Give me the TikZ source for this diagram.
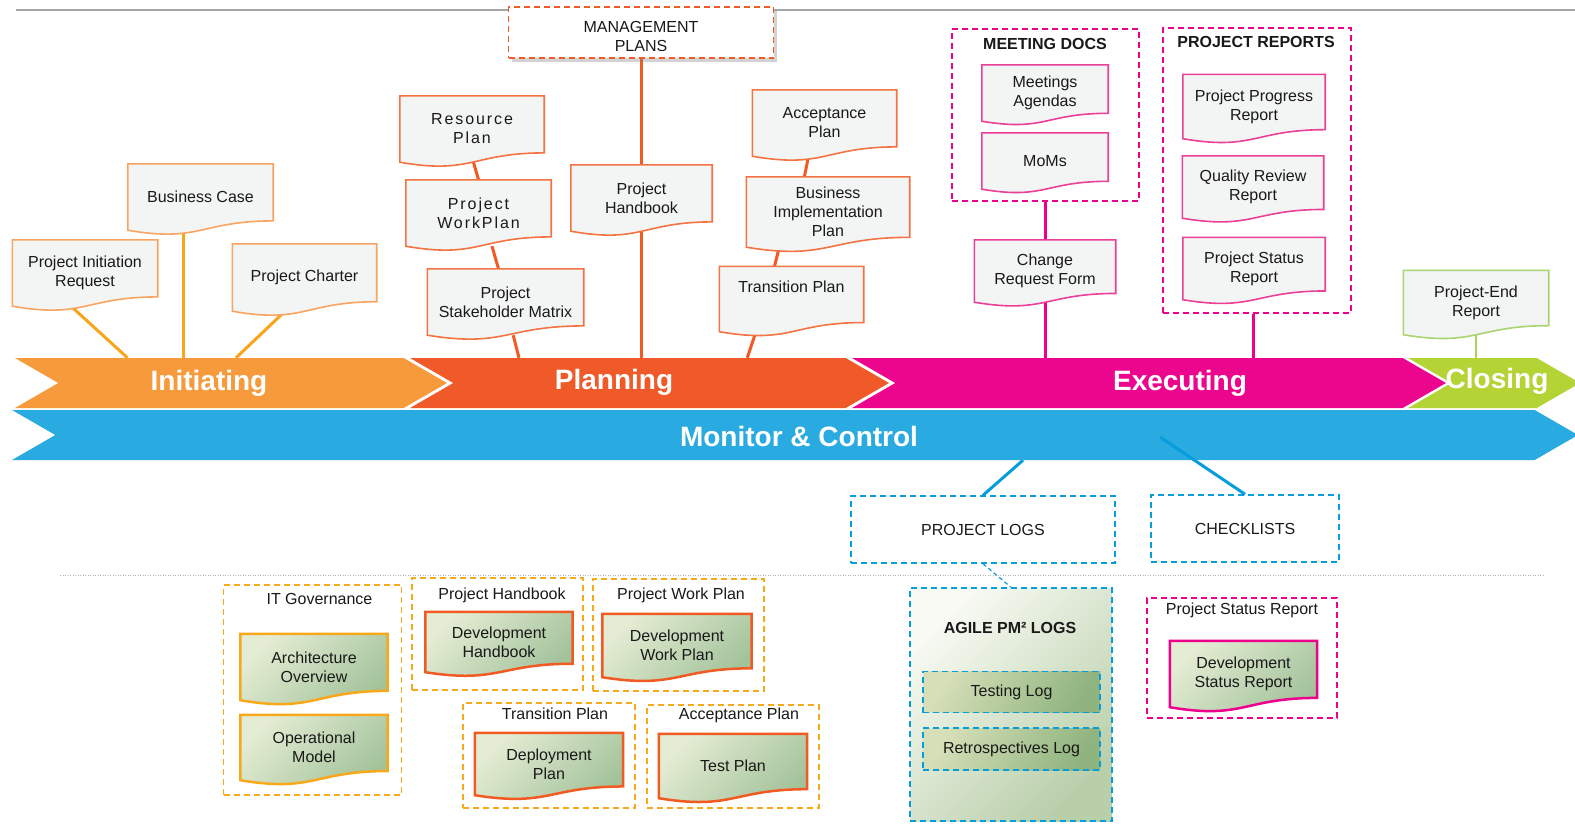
\documentclass[tikz,border=0pt]{standalone}
\usepackage{fontspec}
\setmainfont{Liberation Sans}
\newfontfamily\spacedfont[LetterSpace=12]{Liberation Sans}
\usetikzlibrary{positioning,
                calc,
                backgrounds,
                shapes.symbols,
                shadows}

\definecolor{iniC}{HTML}{F79A3B}
\definecolor{plaC}{HTML}{F05A28}
\definecolor{exeC}{HTML}{EC068D}
\definecolor{cloC}{HTML}{B4D335}
\definecolor{monC}{HTML}{29AAE1}
\definecolor{iniW}{HTML}{F9A51B}
\definecolor{plaW}{HTML}{F15A22}
\definecolor{exeW}{HTML}{EC008C}
\definecolor{cloW}{HTML}{AFD15A}
\definecolor{monW}{HTML}{069DDB}
\definecolor{iniE}{HTML}{F8A462}
\definecolor{plaE}{HTML}{F37342}
\definecolor{exeE}{HTML}{EC3F98}
\definecolor{cloE}{HTML}{A9D46F}
\definecolor{gold}{HTML}{F7A81B}
\definecolor{docfill}{HTML}{F3F4F4}
\definecolor{grnL}{HTML}{E4ECD3}
\definecolor{grnD}{HTML}{A2C29A}
\definecolor{tlL}{HTML}{D6DFB8}
\definecolor{tlD}{HTML}{90B47F}
\definecolor{agL}{HTML}{F8FAF3}
\definecolor{agD}{HTML}{B9CFAA}

% outline of a document node, wavy bottom
\newcommand\docpath[1]{(#1.north west) -- (#1.north east)
  -- ($(#1.north east)!0.86!(#1.south east)$)
  .. controls ($(#1.north)!0.86!(#1.south)$) and ($(#1.north)!1.19!(#1.south)$) .. (#1.south west) -- cycle}

\begin{document}
\begin{tikzpicture}
[x=1pt,y=-1pt,
 every node/.style={font=\fontsize{16}{19}\selectfont,text=black!90},
 ds/.style 2 args={minimum width=#1pt,minimum height=#2pt},
 doc/.style={inner sep=0pt,align=center},
 spaced/.style={font=\fontsize{16}{19}\spacedfont},
 grouptitle/.style={font=\fontsize{16}{19}\selectfont\bfseries},
 band/.style={signal,signal to=east,signal from=west,signal pointer angle=60,
              inner sep=0pt,minimum height=50pt,fill=#1},
 phase/.style={font=\fontsize{28}{32}\selectfont\bfseries,text=white},
 wire/.style={line width=3pt,draw=#1},
 docline/.style={draw=#1,line width=1.6pt,fill=docfill},
 greendoc/.style={draw=#1,line width=2.5pt,left color=grnL,right color=grnD,shading angle=45},
 dbox/.style={draw=#1,line width=1.5pt,dash pattern=on 6pt off 4pt,inner sep=0pt,align=center}]

\useasboundingbox (0,0) rectangle (1575,823);

% phases
\node[band=iniC,minimum width=432pt] (ini) at (231,383) {};
\node[band=plaC,minimum width=479pt] (pla) at (649.5,383) {};
\node[band=exeC,minimum width=594pt] (exe) at (1149,383) {};
\node[band=cloC,minimum width=172pt] (clo) at (1494,383) {};
\node[band=monC,minimum width=1566pt] (mon) at (795,435) {};
\node[phase] (iniL) at (209,383) {Initiating};
\node[phase] (plaL) at (614,382) {Planning};
\node[phase] (exeL) at (1180,383) {Executing};
\node[phase] (cloL) at (1497,381) {Closing};
\node[phase] (monL) at (799,436) {Monitor \& Control};

% initiating
\node[doc,ds={145}{66}] (pir) at (85,273) {Project Initiation\\Request};
\node[doc,ds={145}{66}] (bc) at (200.5,197) {Business Case};
\node[doc,ds={144}{67}] (pc) at (304.5,277.5) {Project Charter};

% planning
\node[dbox=plaW,ds={265}{51},fill=white,
      drop shadow={shadow xshift=3pt,shadow yshift=-4pt,opacity=.35}] (mgmt) at (641,32.5) {};
\node[align=center] (mgmtT) at (641,36.5) {MANAGEMENT\\PLANS};
\node[doc,spaced,ds={144}{66}] (rp) at (472,129) {Resource\\Plan};
\node[doc,spaced,ds={145}{66}] (wp) at (478.5,213) {Project\\WorkPlan};
\node[doc,ds={156}{66}] (psm) at (505.5,302) {Project\\Stakeholder Matrix};
\node[doc,ds={141}{66}] (ph) at (641.5,198) {Project\\Handbook};
\node[doc,ds={144}{66}] (ap) at (824.5,123) {Acceptance\\Plan};
\node[doc,ds={163}{70}] (bip) at (828,212) {Business\\Implementation\\Plan};
\node[doc,ds={144}{65}] (tp) at (791.5,299) {Transition Plan\\\strut};

% executing
\node[dbox=exeW,ds={187}{172}] (meet) at (1045.5,115) {};
\node[grouptitle] (meetT) at (1045,44) {MEETING DOCS};
\node[doc,ds={126}{56}] (ma) at (1045,93) {Meetings\\Agendas};
\node[doc,ds={126}{56}] (mom) at (1045,161) {MoMs};
\node[doc,ds={141}{62}] (crf) at (1045,271) {Change\\Request Form};
\node[dbox=exeW,ds={188}{285}] (rep) at (1257,170.5) {};
\node[grouptitle] (repT) at (1256,42) {PROJECT REPORTS};
\node[doc,ds={142}{64}] (ppr) at (1254,106.5) {Project Progress\\Report};
\node[doc,ds={141}{62}] (qrr) at (1253,187) {Quality Review\\Report};
\node[doc,ds={142}{62}] (psr) at (1254,268.5) {Project Status\\Report};

% closing
\node[doc,ds={145}{64}] (per) at (1476,302.5) {Project-End\\Report};

% monitor & control
\node[dbox=monW,ds={264}{67}] (plogs) at (983,529.5) {PROJECT LOGS};
\node[dbox=monW,ds={188}{67}] (chk) at (1245,528.5) {CHECKLISTS};
\node[dbox=monW,ds={202}{233},top color=agL,bottom color=agD,shading angle=45] (agile) at (1011,704.5) {};
\node[grouptitle] (agileT) at (1010,628) {AGILE PM² LOGS};
\node[dbox=monW,ds={177}{41},left color=tlL,right color=tlD,shading angle=60] (tl) at (1011.5,692) {Testing Log};
\node[dbox=monW,ds={177}{42},left color=tlL,right color=tlD,shading angle=60] (rl) at (1011.5,749) {Retrospectives Log};
\draw[wire=monW] ($(mon.center)+(365,2)$) -- (chk.north);
\draw[monW,line width=1.2pt,dash pattern=on 4pt off 3pt] (plogs.south) -- (agile.north);

% agile deliverables
\node[dbox=gold,ds={178}{210}] (itg) at (312.5,690) {};
\node (itgT) at (319.5,599) {IT Governance};
\node[doc,ds={147}{66}] (ao) at (314,667) {Architecture\\Overview};
\node[doc,ds={147}{65}] (om) at (314,747.5) {Operational\\Model};
\node[dbox=gold,ds={171}{112}] (phg) at (497.5,634) {};
\node (phgT) at (502,595) {Project Handbook};
\node[doc,ds={147}{60}] (dh) at (499,642) {Development\\Handbook};
\node[dbox=gold,ds={171}{112}] (pwpg) at (678.5,635) {};
\node (pwpgT) at (681,595) {Project Work Plan};
\node[doc,ds={149}{63}] (dwp) at (677,645.5) {Development\\Work Plan};
\node[dbox=gold,ds={172}{105}] (tpg) at (549,755.5) {};
\node (tpgT) at (555,714) {Transition Plan};
\node[doc,ds={148}{62}] (dp) at (549,764) {Deployment\\Plan};
\node[dbox=gold,ds={172}{103}] (apg) at (733,756.5) {};
\node (apgT) at (739,715) {Acceptance Plan};
\node[doc,ds={148}{64}] (tpl) at (733,766) {Test Plan};
\node[dbox=exeW,ds={190}{120}] (psrg) at (1242,658) {};
\node (psrgT) at (1242,610) {Project Status Report};
\node[doc,ds={147}{66}] (dsr) at (1243.5,674) {Development\\Status Report};

\begin{scope}[on background layer]
\draw[black!35,line width=1.5pt] (16,10) -- (1575,10);
\draw[black!30,line width=1pt,dash pattern=on 1pt off 1.5pt] (60,575) -- (1544,575);
% connectors
\draw[wire=iniW] ($(pir.south)+(-14,0)$) -- ($(ini.north)+(-103.5,0)$);
\draw[wire=iniW] ($(bc.south)+(-16.6,0)$) coordinate (bcw) -- (bcw |- ini.north);
\draw[wire=iniW] ($(pc.south)+(-19.5,0)$) -- ($(ini.north)+(5,0)$);
\draw[wire=plaW] ($(rp.south)+(1.5,0)$) -- (wp.north);
\draw[wire=plaW] ($(wp.south)+(13.5,0)$) -- ($(psm.north)+(-7,0)$);
\draw[wire=plaW] ($(psm.south)+(7.7,0)$) -- ($(pla.north)+(-130.5,0)$);
\draw[wire=plaW] (mgmt.south) -- (mgmt.south |- pla.north);
\draw[wire=plaW] ($(ap.south)+(-16,0)$) -- ($(bip.north)+(-23.6,0)$);
\draw[wire=plaW] ($(bip.south)+(-48.7,0)$) -- ($(tp.north)+(-17,0)$);
\draw[wire=plaW] ($(tp.south)+(-35.6,0)$) -- ($(pla.north)+(97.8,0)$);
\draw[wire=exeW] (meet.south) -- (meet.south |- crf.north);
\draw[wire=exeW] (crf.south) -- (crf.south |- exe.north);
\draw[wire=exeW] ($(rep.south)+(-4,0)$) coordinate (repw) -- (repw |- exe.north);
\draw[line width=2pt,draw=cloW] (per.south) -- (per.south |- clo.north);
\draw[wire=monW] ($(mon.south)+(228,0)$) -- (plogs.north);
% document shapes
\foreach \n/\c in {pir/iniE,bc/iniE,pc/iniE,rp/plaE,wp/plaE,psm/plaE,ph/plaE,ap/plaE,bip/plaE,tp/plaE,
                   ma/exeE,mom/exeE,crf/exeE,ppr/exeE,qrr/exeE,psr/exeE,per/cloE}
  \draw[docline=\c] \docpath{\n};
\foreach \n/\c in {ao/gold,om/gold,dh/plaW,dwp/plaW,dp/plaW,tpl/plaW,dsr/exeW}
  \draw[greendoc=\c] \docpath{\n};
\end{scope}
\end{tikzpicture}
\end{document}
